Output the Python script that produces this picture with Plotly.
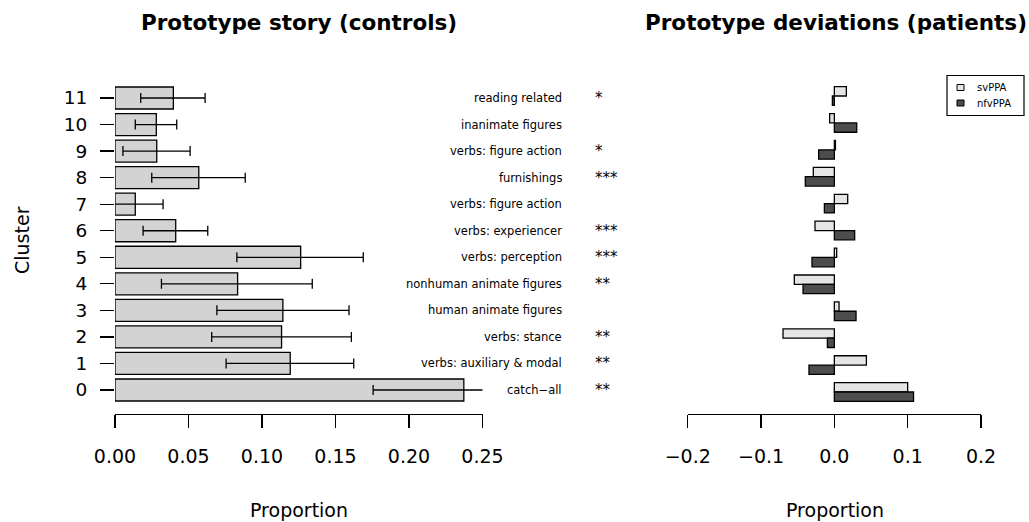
import plotly.graph_objects as go

# ---------------- data ----------------
clusters = list(range(12))
cluster_tick_text = [str(c) for c in clusters]
cluster_labels = ["catch\u2212all", "verbs: auxiliary & modal", "verbs: stance",
                  "human animate figures", "nonhuman animate figures",
                  "verbs: perception", "verbs: experiencer", "verbs: figure action",
                  "furnishings", "verbs: figure action", "inanimate figures",
                  "reading related"]
significance = ["**", "**", "**", "", "**", "***", "***", "", "***", "*", "", "*"]

control_prop = [0.2373, 0.1192, 0.1133, 0.1142, 0.0834, 0.1263, 0.0413, 0.0138,
                0.0570, 0.0284, 0.0281, 0.0397]
ci_low = [0.1756, 0.0756, 0.0658, 0.0693, 0.0316, 0.0829, 0.0191, -0.0050,
          0.0250, 0.0054, 0.0138, 0.0175]
ci_high = [0.2990, 0.1624, 0.1608, 0.1592, 0.1342, 0.1689, 0.0631, 0.0327,
           0.0886, 0.0511, 0.0420, 0.0613]

groups = ["svPPA", "nfvPPA"]
group_colors = ["#e5e5e5", "#4d4d4d"]
sv_dev = [0.100, 0.0437, -0.070, 0.0064, -0.0546, 0.0032, -0.0264, 0.0182,
          -0.0287, 0.0015, -0.0064, 0.0164]
nfv_dev = [0.108, -0.0346, -0.0095, 0.0296, -0.0427, -0.0305, 0.0277, -0.0136,
           -0.0396, -0.0214, 0.0305, -0.0027]

left_ticks = [0.0, 0.05, 0.10, 0.15, 0.20, 0.25]
left_tick_text = ["0.00", "0.05", "0.10", "0.15", "0.20", "0.25"]
right_ticks = [-0.2, -0.1, 0.0, 0.1, 0.2]
right_tick_text = ["\u22120.2", "\u22120.1", "0.0", "0.1", "0.2"]

# ---------------- figure ----------------
W, H = 1029, 522
FONT = "DejaVu Sans"

def px_x(p):
    return p / W

def px_y(p):
    return (H - p) / H

fig = go.Figure()

fig.add_trace(go.Bar(
    orientation="h", y=clusters, x=control_prop, width=0.83,
    marker=dict(color="#d3d3d3", line=dict(color="black", width=1.3)),
    error_x=dict(type="data", symmetric=False,
                 array=[h - v for h, v in zip(ci_high, control_prop)],
                 arrayminus=[v - l for v, l in zip(control_prop, ci_low)],
                 color="black", thickness=1.3, width=5),
    showlegend=False, xaxis="x", yaxis="y", hoverinfo="skip",
))

for name, vals, col, off in zip(groups, [sv_dev, nfv_dev], group_colors, [0, -0.347]):
    fig.add_trace(go.Bar(
        orientation="h", y=clusters, x=vals, width=0.347, offset=off,
        name=name, showlegend=False, hoverinfo="skip",
        marker=dict(color=col, line=dict(color="black", width=1.3)),
        xaxis="x2", yaxis="y2",
    ))

ydom = [px_y(414), px_y(82)]

axis_common = dict(showgrid=False, zeroline=False, automargin=False)

fig.update_layout(
    template="none",
    width=W, height=H,
    margin=dict(l=0, r=0, t=0, b=0, pad=0, autoexpand=False),
    paper_bgcolor="white", plot_bgcolor="white",
    font=dict(family=FONT, color="black"),
    barmode="overlay",
    showlegend=False,
    hovermode=False,
    xaxis=dict(domain=[px_x(115), px_x(482.5)], range=[0, 0.25],
               tickvals=left_ticks, ticktext=left_tick_text,
               showline=True, linecolor="black", linewidth=1.3,
               ticks="outside", ticklen=13, tickwidth=1.3, tickcolor="black",
               tickfont=dict(size=19, family=FONT), ticklabelstandoff=12,
               anchor="y", **axis_common),
    yaxis=dict(domain=ydom, range=[-0.904, 11.603],
               tickvals=clusters, ticktext=cluster_tick_text,
               showline=False, ticks="outside", ticklen=14, tickwidth=1.3,
               tickcolor="black", tickfont=dict(size=18.5, family=FONT),
               ticklabelstandoff=9,
               anchor="x", **axis_common),
    xaxis2=dict(domain=[px_x(687.7), px_x(981)], range=[-0.2, 0.2],
                tickvals=right_ticks, ticktext=right_tick_text,
                showline=True, linecolor="black", linewidth=1.3,
                ticks="outside", ticklen=13, tickwidth=1.3, tickcolor="black",
                tickfont=dict(size=19, family=FONT), ticklabelstandoff=12,
                anchor="y2", **axis_common),
    yaxis2=dict(domain=ydom, range=[-0.818, 11.52], visible=False,
                anchor="x2", **axis_common),
)

annotations = [
    dict(text="<b>Prototype story (controls)</b>", x=px_x(299), y=px_y(22),
         xref="paper", yref="paper", xanchor="center", yanchor="middle",
         showarrow=False, font=dict(size=21.5, family=FONT)),
    dict(text="<b>Prototype deviations (patients)</b>", x=px_x(835.5), y=px_y(22),
         xref="paper", yref="paper", xanchor="center", yanchor="middle",
         showarrow=False, font=dict(size=21.5, family=FONT)),
    dict(text="Proportion", x=px_x(298.5), y=px_y(510),
         xref="paper", yref="paper", xanchor="center", yanchor="middle",
         showarrow=False, font=dict(size=19, family=FONT)),
    dict(text="Proportion", x=px_x(834.5), y=px_y(510),
         xref="paper", yref="paper", xanchor="center", yanchor="middle",
         showarrow=False, font=dict(size=19, family=FONT)),
    dict(text="Cluster", x=px_x(22), y=px_y(240), textangle=-90,
         xref="paper", yref="paper", xanchor="center", yanchor="middle",
         showarrow=False, font=dict(size=19, family=FONT)),
]
for c, lab, sig in zip(clusters, cluster_labels, significance):
    annotations.append(dict(text=lab, x=px_x(563.5), y=c, xref="paper", yref="y",
                            xanchor="right", yanchor="middle", showarrow=False,
                            font=dict(size=11.5, family=FONT)))
    if sig:
        annotations.append(dict(text=sig, x=px_x(592.5), y=c, xref="paper", yref="y",
                                xanchor="left", yanchor="middle", showarrow=False,
                                font=dict(size=15, family=FONT)))

# legend box (R-style) built from the group names / colours
shapes = [dict(type="rect", xref="paper", yref="paper",
               x0=px_x(947), x1=px_x(1024), y0=px_y(115.5), y1=px_y(75.5),
               line=dict(color="black", width=1.2), fillcolor="white")]
for i, (name, col) in enumerate(zip(groups, group_colors)):
    yc = 87.5 + i * 15.5
    shapes.append(dict(type="rect", xref="paper", yref="paper",
                       x0=px_x(957), x1=px_x(964), y0=px_y(yc + 3), y1=px_y(yc - 3),
                       line=dict(color="black", width=1), fillcolor=col))
    annotations.append(dict(text=name, x=px_x(974.5), y=px_y(yc), xref="paper",
                            yref="paper", xanchor="left", yanchor="middle",
                            showarrow=False, font=dict(size=10, family=FONT)))

fig.update_layout(annotations=annotations, shapes=shapes)

fig.write_html("out.html", config={"displayModeBar": False, "staticPlot": True},
               post_script="document.body.style.margin='0px';")
